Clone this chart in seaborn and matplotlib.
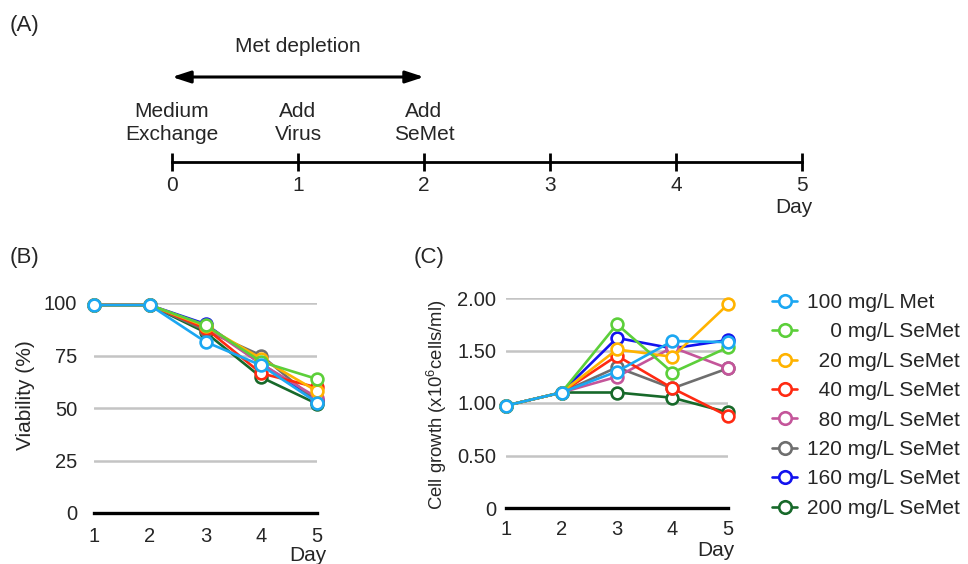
import pandas as pd
import matplotlib.pyplot as plt
import seaborn as sns
from matplotlib.lines import Line2D

# days sampled in panels B and C
days = [1, 2, 3, 4, 5]

conditions = ["100 mg/L Met", "0 mg/L SeMet", "20 mg/L SeMet", "40 mg/L SeMet",
              "80 mg/L SeMet", "120 mg/L SeMet", "160 mg/L SeMet", "200 mg/L SeMet"]
colors = ["#1ba7f2", "#5ccf3a", "#ffb300", "#ff2a12",
          "#c4559a", "#6e6e6e", "#1212ee", "#17692a"]

# viability (%)
viab_met100 = [99, 99, 81.5, 70.3, 52.6]
viab_se0 = [99, 99, 89.5, 72.0, 63.8]
viab_se20 = [99, 99, 89.0, 73.5, 58.0]
viab_se40 = [99, 99, 88.0, 66.5, 59.8]
viab_se80 = [99, 99, 89.0, 71.0, 55.0]
viab_se120 = [99, 99, 87.0, 75.0, 53.0]
viab_se160 = [99, 99, 90.0, 71.0, 54.0]
viab_se200 = [99, 99, 86.0, 64.6, 52.0]

# cell growth (x10^6 cells/ml)
grow_met100 = [0.975, 1.10, 1.30, 1.59, 1.58]
grow_se0 = [0.975, 1.10, 1.75, 1.29, 1.53]
grow_se20 = [0.975, 1.10, 1.51, 1.44, 1.94]
grow_se40 = [0.975, 1.10, 1.45, 1.14, 0.875]
grow_se80 = [0.975, 1.10, 1.25, 1.53, 1.33]
grow_se120 = [0.975, 1.10, 1.34, 1.14, 1.33]
grow_se160 = [0.975, 1.10, 1.62, 1.52, 1.60]
grow_se200 = [0.975, 1.10, 1.10, 1.05, 0.91]

# timeline (panel A)
timeline_days = [0, 1, 2, 3, 4, 5]
event_days = [0, 1, 2]
event_labels = ["Medium\nExchange", "Add\nVirus", "Add\nSeMet"]
depletion_span = [0, 2]

viab_all = [viab_met100, viab_se0, viab_se20, viab_se40,
            viab_se80, viab_se120, viab_se160, viab_se200]
grow_all = [grow_met100, grow_se0, grow_se20, grow_se40,
            grow_se80, grow_se120, grow_se160, grow_se200]

rows = []
for cond, v, g in zip(conditions, viab_all, grow_all):
    for d, vv, gg in zip(days, v, g):
        rows.append({"day": d, "condition": cond, "viability": vv, "growth": gg})
df = pd.DataFrame(rows)

palette = dict(zip(conditions, colors))
draw_order = conditions[::-1]  # 100 mg/L Met drawn last (on top)

sns.set_theme(style="white")
plt.rcParams["font.family"] = ["Liberation Sans", "DejaVu Sans"]
plt.rcParams["mathtext.fontset"] = "custom"
plt.rcParams["mathtext.rm"] = "Liberation Sans"
plt.rcParams["mathtext.it"] = "Liberation Sans"

W, H = 968, 564
fig = plt.figure(figsize=(W / 100, H / 100), dpi=100)
FS = 15
TICK_FS = 14.5


def px_box(x0, y_top, x1, y_bot):
    return [x0 / W, 1 - y_bot / H, (x1 - x0) / W, (y_bot - y_top) / H]


# ---------------- panel A: timeline ----------------
ax_a = fig.add_axes(px_box(172, 20, 802, 162))
ax_a.set_xlim(0, 5)
ax_a.set_ylim(0, 142)
for s in ["top", "left", "right"]:
    ax_a.spines[s].set_visible(False)
ax_a.spines["bottom"].set_linewidth(2)
ax_a.spines["bottom"].set_color("black")
ax_a.set_xticks(timeline_days)
ax_a.set_xticklabels([str(d) for d in timeline_days])
ax_a.set_yticks([])
ax_a.tick_params(axis="x", direction="inout", length=13.5, width=2,
                 pad=3, labelsize=FS, bottom=True, color="black")
ax_a.patch.set_alpha(0)
for d, lab in zip(event_days, event_labels):
    ax_a.text(d, 39, lab, ha="center", va="center", fontsize=FS, linespacing=1.22)
ax_a.annotate("", xy=(depletion_span[1], 85), xytext=(depletion_span[0], 85),
              arrowprops=dict(arrowstyle="<|-|>,head_length=1.1,head_width=0.36",
                              lw=2.2, color="black", shrinkA=0, shrinkB=0,
                              mutation_scale=10))
ax_a.text(sum(depletion_span) / 2, 116, "Met depletion", ha="center", va="center", fontsize=FS)
ax_a.annotate("Day", xy=(5, 0), xytext=(7.5, -26), textcoords="offset points",
              ha="right", va="top", fontsize=FS)


def style_panel(ax, grid_vals, ylim, ticklabels):
    ax.set_xlim(1, 5)
    ax.set_ylim(*ylim)
    ax.set_xticks(days)
    ax.set_xticklabels([str(d) for d in days])
    ax.set_yticks([0] + grid_vals)
    ax.set_yticklabels(ticklabels)
    for g in grid_vals:
        ax.axhline(g, color="#c4c4c4", lw=1.8, zorder=0)
    for s in ["top", "left", "right"]:
        ax.spines[s].set_visible(False)
    ax.spines["bottom"].set_linewidth(2.4)
    ax.spines["bottom"].set_color("black")
    ax.tick_params(length=0, labelsize=TICK_FS)
    ax.set_xlabel("")
    ax.patch.set_alpha(0)
    for line in ax.get_lines():
        if line.get_marker() == "o":
            line.set_markeredgecolor(line.get_color())
            line.set_markerfacecolor("white")


line_kws = dict(marker="o", ms=8.5, mew=1.9, lw=1.9, clip_on=False,
                legend=False, errorbar=None)

# ---------------- panel B: viability ----------------
ax_b = fig.add_axes(px_box(94, 303, 317, 513))
sns.lineplot(data=df, x="day", y="viability", hue="condition", hue_order=draw_order,
             palette=palette, ax=ax_b, **line_kws)
style_panel(ax_b, [25, 50, 75, 100], (0, 100), ["0", "25", "50", "75", "100"])
ax_b.tick_params(axis="x", pad=10)
ax_b.tick_params(axis="y", pad=12)
ax_b.set_ylabel("Viability (%)", fontsize=FS)
ax_b.yaxis.set_label_coords(-0.265, 0.56)
ax_b.annotate("Day", xy=(5, 0), xytext=(7, -24), textcoords="offset points",
              ha="right", va="top", fontsize=FS)

# ---------------- panel C: cell growth ----------------
ax_c = fig.add_axes(px_box(506, 298, 728, 508))
sns.lineplot(data=df, x="day", y="growth", hue="condition", hue_order=draw_order,
             palette=palette, ax=ax_c, **line_kws)
style_panel(ax_c, [0.5, 1.0, 1.5, 2.0], (0, 2.0), ["0", "0.50", "1.00", "1.50", "2.00"])
ax_c.tick_params(axis="x", pad=8.5)
ax_c.tick_params(axis="y", pad=7)
ax_c.set_ylabel(r"Cell growth (x10$^{6}$cells/ml)", fontsize=13.3)
ax_c.yaxis.set_label_coords(-0.255, 0.49)
ax_c.annotate("Day", xy=(5, 0), xytext=(5, -24), textcoords="offset points",
              ha="right", va="top", fontsize=FS)

# legend with right-aligned concentrations
pad_labels = []
for c in conditions:
    num = c.split(" ")[0]
    pad_labels.append("\u2007" * (3 - len(num)) + c)
handles = [Line2D([], [], color=col, marker="o", ms=9, mew=1.9, lw=1.9,
                  mfc="white", mec=col) for col in colors]
fig.legend(handles, pad_labels, loc="upper left",
           bbox_to_anchor=(772 / W, 1 - 293 / H), frameon=False, fontsize=FS,
           handlelength=1.2, handletextpad=0.5, labelspacing=0.5,
           borderpad=0, borderaxespad=0)

# panel letters
fig.text(10 / W, 1 - 25 / H, "(A)", fontsize=16, va="center", ha="left")
fig.text(10 / W, 1 - 258 / H, "(B)", fontsize=16, va="center", ha="left")
fig.text(414 / W, 1 - 258 / H, "(C)", fontsize=16, va="center", ha="left")

fig.savefig("out.png", dpi=100)
